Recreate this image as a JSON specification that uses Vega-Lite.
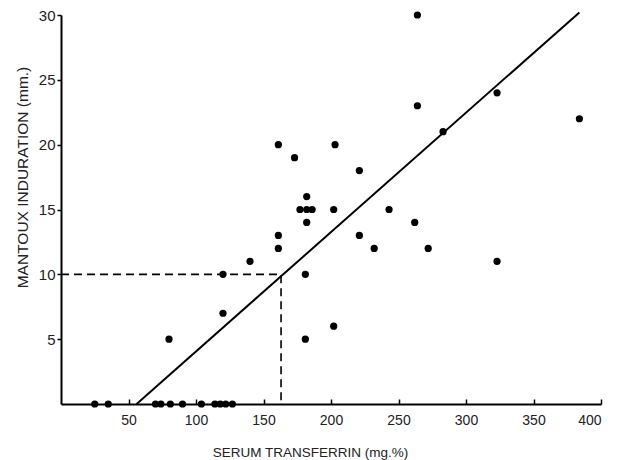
{
  "$schema": "https://vega.github.io/schema/vega-lite/v6.json",
  "autosize": "none",
  "width": 540,
  "height": 389,
  "padding": {"left": 61, "top": 15, "right": 18, "bottom": 56},
  "background": "white",
  "config": {
    "view": {"stroke": null},
    "font": "Liberation Sans",
    "axis": {
      "grid": false,
      "domainColor": "black",
      "domainWidth": 2,
      "tickColor": "black",
      "tickWidth": 1.5,
      "labelFont": "Liberation Sans",
      "titleFont": "Liberation Sans",
      "labelFontSize": 14,
      "titleFontSize": 13.5,
      "labelColor": "#222",
      "titleColor": "#222",
      "titleFontWeight": "normal"
    }
  },
  "datasets": {
    "points": [
      {"transferrin": 25, "induration": 0},
      {"transferrin": 35, "induration": 0},
      {"transferrin": 70, "induration": 0},
      {"transferrin": 74, "induration": 0},
      {"transferrin": 81, "induration": 0},
      {"transferrin": 90, "induration": 0},
      {"transferrin": 104, "induration": 0},
      {"transferrin": 114, "induration": 0},
      {"transferrin": 118, "induration": 0},
      {"transferrin": 122, "induration": 0},
      {"transferrin": 127, "induration": 0},
      {"transferrin": 80, "induration": 5},
      {"transferrin": 120, "induration": 7},
      {"transferrin": 120, "induration": 10},
      {"transferrin": 140, "induration": 11},
      {"transferrin": 161, "induration": 12},
      {"transferrin": 161, "induration": 13},
      {"transferrin": 161, "induration": 20},
      {"transferrin": 173, "induration": 19},
      {"transferrin": 177, "induration": 15},
      {"transferrin": 182, "induration": 15},
      {"transferrin": 186, "induration": 15},
      {"transferrin": 182, "induration": 16},
      {"transferrin": 182, "induration": 14},
      {"transferrin": 181, "induration": 10},
      {"transferrin": 181, "induration": 5},
      {"transferrin": 202, "induration": 6},
      {"transferrin": 202, "induration": 15},
      {"transferrin": 203, "induration": 20},
      {"transferrin": 221, "induration": 18},
      {"transferrin": 221, "induration": 13},
      {"transferrin": 232, "induration": 12},
      {"transferrin": 243, "induration": 15},
      {"transferrin": 262, "induration": 14},
      {"transferrin": 264, "induration": 23},
      {"transferrin": 264, "induration": 30},
      {"transferrin": 272, "induration": 12},
      {"transferrin": 283, "induration": 21},
      {"transferrin": 323, "induration": 24},
      {"transferrin": 323, "induration": 11},
      {"transferrin": 384, "induration": 22}
    ],
    "fit": [
      {"transferrin": 56, "induration": 0},
      {"transferrin": 384, "induration": 30.2}
    ],
    "guide": [
      {"transferrin": 0, "induration": 10, "order": 1},
      {"transferrin": 163, "induration": 10, "order": 2},
      {"transferrin": 163, "induration": 0, "order": 3}
    ]
  },
  "layer": [
    {
      "data": {"name": "guide"},
      "mark": {"type": "line", "color": "black", "strokeWidth": 1.6, "strokeDash": [8, 5]},
      "encoding": {
        "x": {"field": "transferrin", "type": "quantitative", "scale": {"domain": [0, 400], "nice": false},
          "axis": {
            "title": "SERUM TRANSFERRIN (mg.%)",
            "values": [50, 100, 150, 200, 250, 300, 350, 400],
            "tickSize": -5,
            "labelPadding": 14,
            "titleX": 249,
            "titleY": 48,
            "titleBaseline": "middle",
            "titleAnchor": null
          }},
        "y": {"field": "induration", "type": "quantitative", "scale": {"domain": [0, 30], "nice": false},
          "axis": {
            "title": "MANTOUX INDURATION (mm.)",
            "values": [5, 10, 15, 20, 25, 30],
            "tickSize": 4,
            "labelPadding": 2,
            "labelFontSize": 15,
            "titleFontSize": 15.5,
            "titleX": -39,
            "titleY": 162,
            "titleAlign": "center",
            "titleBaseline": "middle",
            "titleAnchor": null
          }},
        "order": {"field": "order"}
      }
    },
    {
      "data": {"name": "fit"},
      "mark": {"type": "line", "color": "black", "strokeWidth": 2},
      "encoding": {
        "x": {"field": "transferrin", "type": "quantitative"},
        "y": {"field": "induration", "type": "quantitative"}
      }
    },
    {
      "data": {"name": "points"},
      "mark": {"type": "circle", "color": "black", "opacity": 1, "size": 52},
      "encoding": {
        "x": {"field": "transferrin", "type": "quantitative"},
        "y": {"field": "induration", "type": "quantitative"}
      }
    }
  ]
}
